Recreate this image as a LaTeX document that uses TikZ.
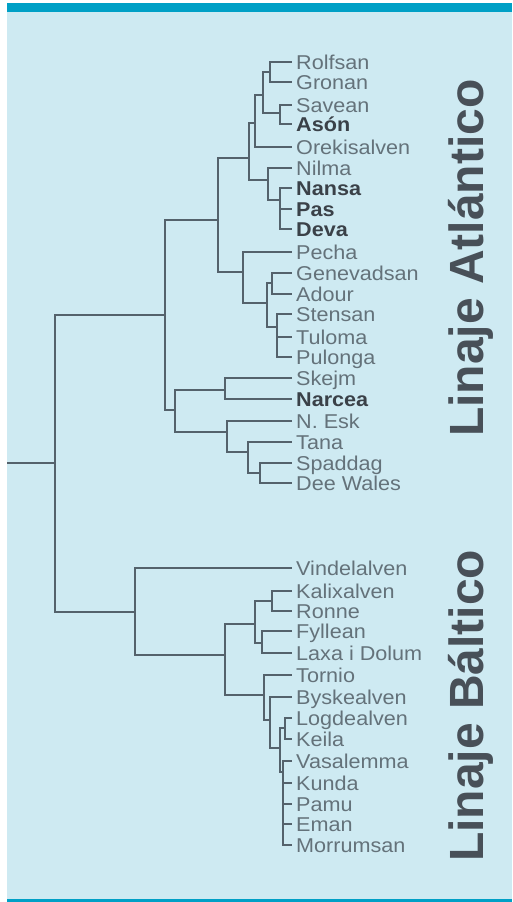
\documentclass[tikz,border=0pt]{standalone}
\usepackage{fontspec}
\setmainfont{Liberation Sans}
\newfontfamily\leaffont[FakeStretch=1.08]{Liberation Sans}
\definecolor{panel}{RGB}{206,234,242}
\definecolor{bar}{RGB}{0,160,198}
\definecolor{treeline}{RGB}{84,98,108}
\definecolor{leafgray}{RGB}{100,114,122}
\definecolor{leafdark}{RGB}{58,65,72}
\definecolor{titlegray}{RGB}{72,80,88}
\tikzstyle{leaf}=[
	anchor=west,
	inner xsep=4,
	inner ysep=0,
	text height=14,
	text depth=0,
	text=leafgray,
	font=\leaffont\fontsize{20}{21}\selectfont]
\tikzstyle{key}=[
	leaf,
	text=leafdark,
	font=\leaffont\bfseries\fontsize{20}{21}\selectfont]
\tikzstyle{branch}=[
	draw=treeline,
	line width=2.2]
\tikzstyle{lineage}=[
	rotate=90,
	anchor=base west,
	inner sep=0,
	text=titlegray,
	font=\bfseries\fontsize{48}{48}\selectfont]
\begin{document}
\begin{tikzpicture}[x=1pt,y=-1pt]
	\useasboundingbox (0,0) rectangle (512,902);
	\fill[panel] (7,3) rectangle (512,902);
	\fill[bar] (7,3) rectangle (512,12);
	\fill[bar] (7,899) rectangle (512,902);
	\begin{scope}
		\node[leaf]	(rolfsan)	at (292,62)	{Rolfsan};
		\node[leaf]	(gronan)	at (292,82)	{Gronan};
		\node[leaf]	(savean)	at (292,105)	{Savean};
		\node[key]	(ason)	at (292,124)	{Asón};
		\node[leaf]	(orekisalven)	at (292,147)	{Orekisalven};
		\node[leaf]	(nilma)	at (292,168)	{Nilma};
		\node[key]	(nansa)	at (292,188)	{Nansa};
		\node[key]	(pas)	at (292,209)	{Pas};
		\node[key]	(deva)	at (292,229)	{Deva};
		\node[leaf]	(pecha)	at (292,252)	{Pecha};
		\node[leaf]	(genevadsan)	at (292,273)	{Genevadsan};
		\node[leaf]	(adour)	at (292,294)	{Adour};
		\node[leaf]	(stensan)	at (292,314)	{Stensan};
		\node[leaf]	(tuloma)	at (292,337)	{Tuloma};
		\node[leaf]	(pulonga)	at (292,357)	{Pulonga};
		\node[leaf]	(skejm)	at (292,378)	{Skejm};
		\node[key]	(narcea)	at (292,399)	{Narcea};
		\node[leaf]	(nesk)	at (292,421)	{N. Esk};
		\node[leaf]	(tana)	at (292,442)	{Tana};
		\node[leaf]	(spaddag)	at (292,463)	{Spaddag};
		\node[leaf]	(deewales)	at (292,483)	{Dee Wales};
	\end{scope}
	\begin{scope}
		\node[leaf]	(vindelalven)	at (292,568)	{Vindelalven};
		\node[leaf]	(kalixalven)	at (292,591)	{Kalixalven};
		\node[leaf]	(ronne)	at (292,611)	{Ronne};
		\node[leaf]	(fyllean)	at (292,631)	{Fyllean};
		\node[leaf]	(laxa)	at (292,653)	{Laxa i Dolum};
		\node[leaf]	(tornio)	at (292,675)	{Tornio};
		\node[leaf]	(byskealven)	at (292,697)	{Byskealven};
		\node[leaf]	(logdealven)	at (292,718)	{Logdealven};
		\node[leaf]	(keila)	at (292,739)	{Keila};
		\node[leaf]	(vasalemma)	at (292,761)	{Vasalemma};
		\node[leaf]	(kunda)	at (292,783)	{Kunda};
		\node[leaf]	(pamu)	at (292,804)	{Pamu};
		\node[leaf]	(eman)	at (292,824)	{Eman};
		\node[leaf]	(morrumsan)	at (292,845)	{Morrumsan};
	\end{scope}
	\coordinate (stem) at (7,463);
	\coordinate (r) at (55,463);
	\coordinate (atl) at (165,315);
	\coordinate (a1) at (218,220);
	\coordinate (a11) at (249,158);
	\coordinate (a111) at (255,123);
	\coordinate (rgsa) at (263,95);
	\coordinate (rg) at (270,72);
	\coordinate (sa) at (280,113);
	\coordinate (a112) at (268,180);
	\coordinate (npd) at (280,200);
	\coordinate (a12) at (243,272);
	\coordinate (a122) at (267,303);
	\coordinate (ga) at (272,283);
	\coordinate (stp) at (277,327);
	\coordinate (a2) at (175,410);
	\coordinate (sn) at (225,390);
	\coordinate (a22) at (227,432);
	\coordinate (a222) at (248,452);
	\coordinate (sd) at (260,473);
	\coordinate (bal) at (135,612);
	\coordinate (b2) at (225,655);
	\coordinate (b21) at (255,624);
	\coordinate (kr) at (272,601);
	\coordinate (fl) at (262,643);
	\coordinate (b22) at (264,695);
	\coordinate (b222) at (270,720);
	\coordinate (b2222) at (280,748);
	\coordinate (lk) at (285,728);
	\coordinate (vm) at (283,772);
	\draw[branch] (stem) -- (r);
	\foreach \a/\b in {r/atl,r/bal,atl/a1,atl/a2,a1/a11,a1/a12,a11/a111,a11/a112,a111/rgsa,rgsa/rg,rgsa/sa,a112/npd,a12/a122,a122/ga,a122/stp,a2/sn,a2/a22,a22/a222,a222/sd,bal/b2,b2/b21,b2/b22,b21/kr,b21/fl,b22/b222,b222/b2222,b2222/lk,b2222/vm}
		\draw[branch] (\a) |- (\b);
	\foreach \a/\b in {rg/rolfsan,rg/gronan,sa/savean,sa/ason,a111/orekisalven,a112/nilma,npd/nansa,npd/pas,npd/deva,a12/pecha,ga/genevadsan,ga/adour,stp/stensan,stp/tuloma,stp/pulonga,sn/skejm,sn/narcea,a22/nesk,a222/tana,sd/spaddag,sd/deewales,bal/vindelalven,kr/kalixalven,kr/ronne,fl/fyllean,fl/laxa,b22/tornio,b222/byskealven,lk/logdealven,lk/keila,vm/vasalemma,vm/kunda,vm/pamu,vm/eman,vm/morrumsan}
		\draw[branch] (\a) |- (\b.west);
	\node[lineage] (atlantico) at (483,437) {Linaje Atlántico};
	\node[lineage] (baltico) at (483,862) {Linaje Báltico};
\end{tikzpicture}
\end{document}
